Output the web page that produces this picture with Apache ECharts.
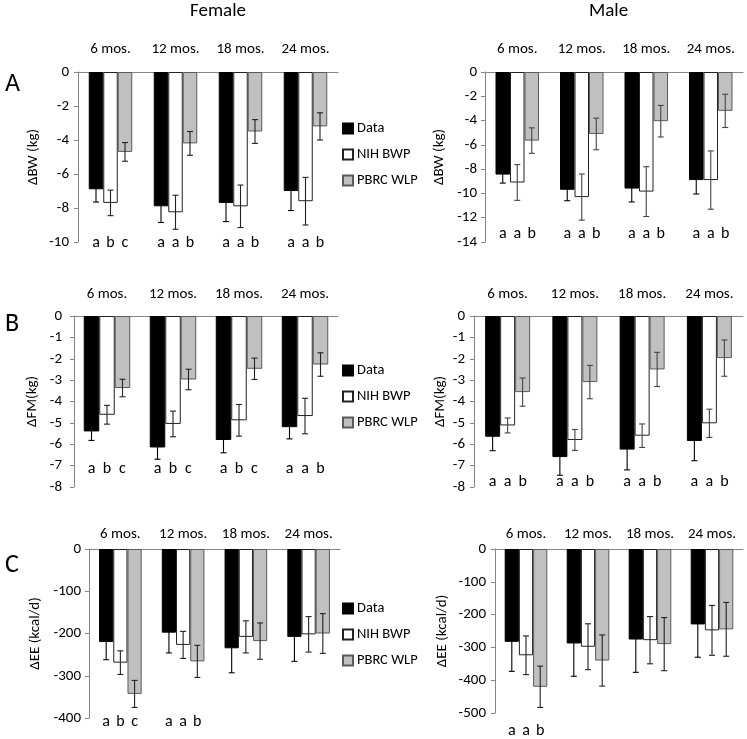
<!DOCTYPE html>
<html><head><meta charset="utf-8">
<script src="https://cdn.jsdelivr.net/npm/echarts@6/dist/echarts.min.js"></script>
<style>html,body{margin:0;padding:0;background:#fff}#c{width:747px;height:739px}</style>
</head><body><div id="c"></div>
<script>
const categories = ['6 mos.', '12 mos.', '18 mos.', '24 mos.'];
const seriesNames = ['Data', 'NIH BWP', 'PBRC WLP'];

// Female ΔBW (kg)
const fBW_data = [-6.9, -7.9, -7.7, -7.0];
const fBW_dataErr = [0.75, 0.95, 1.1, 1.15];
const fBW_nih = [-7.7, -8.25, -7.9, -7.6];
const fBW_nihErr = [0.75, 1.0, 1.25, 1.4];
const fBW_pbrc = [-4.7, -4.2, -3.5, -3.2];
const fBW_pbrcErr = [0.55, 0.7, 0.7, 0.8];
const fBW_letters = ['a b c', 'a a b', 'a a b', 'a a b'];

// Male ΔBW (kg)
const mBW_data = [-8.45, -9.7, -9.6, -8.9];
const mBW_dataErr = [0.7, 0.9, 1.1, 1.15];
const mBW_nih = [-9.1, -10.3, -9.85, -8.9];
const mBW_nihErr = [1.47, 1.9, 2.05, 2.4];
const mBW_pbrc = [-5.65, -5.1, -4.05, -3.2];
const mBW_pbrcErr = [1.05, 1.3, 1.3, 1.37];
const mBW_letters = ['a a b', 'a a b', 'a a b', 'a a b'];

// Female ΔFM (kg)
const fFM_data = [-5.4, -6.15, -5.8, -5.2];
const fFM_dataErr = [0.42, 0.55, 0.6, 0.55];
const fFM_nih = [-4.62, -5.05, -4.88, -4.68];
const fFM_nihErr = [0.44, 0.6, 0.74, 0.83];
const fFM_pbrc = [-3.37, -2.97, -2.47, -2.27];
const fFM_pbrcErr = [0.41, 0.48, 0.5, 0.55];
const fFM_letters = ['a b c', 'a b c', 'a b c', 'a a b'];

// Male ΔFM (kg)
const mFM_data = [-5.65, -6.6, -6.25, -5.85];
const mFM_dataErr = [0.65, 0.85, 0.95, 0.92];
const mFM_nih = [-5.12, -5.8, -5.6, -5.02];
const mFM_nihErr = [0.35, 0.49, 0.55, 0.66];
const mFM_pbrc = [-3.56, -3.09, -2.5, -1.97];
const mFM_pbrcErr = [0.66, 0.78, 0.8, 0.85];
const mFM_letters = ['a a b', 'a a b', 'a a b', 'a a b'];

// Female ΔEE (kcal/d)
const fEE_data = [-220, -198, -235, -208];
const fEE_dataErr = [42, 48, 58, 58];
const fEE_nih = [-269, -227, -208, -202];
const fEE_nihErr = [28, 32, 38, 42];
const fEE_pbrc = [-343, -266, -218, -200];
const fEE_pbrcErr = [32, 38, 43, 47];
const fEE_letters = ['a b c', 'a a b', '', ''];

// Male ΔEE (kcal/d)
const mEE_data = [-283, -288, -276, -230];
const mEE_dataErr = [90, 100, 100, 100];
const mEE_nih = [-324, -298, -278, -248];
const mEE_nihErr = [59, 70, 72, 76];
const mEE_pbrc = [-420, -340, -290, -245];
const mEE_pbrcErr = [63, 78, 81, 82];
const mEE_letters = ['a a b', '', '', ''];

const FONT = 'Carlito, Lato, sans-serif';
const AXIS_GRAY = '#868686';

const panels = [
  {grid:{left:78, top:72, width:260, height:170}, min:-10, interval:2, name:'ΔBW (kg)', nameGap:37, bw:14.5, letterMargin:-7, catMargin:15, labMargin:9,
   vals:[fBW_data,fBW_nih,fBW_pbrc], errs:[fBW_dataErr,fBW_nihErr,fBW_pbrcErr], letters:fBW_letters, errColor:'#222'},
  {grid:{left:485, top:72, width:258, height:170}, min:-14, interval:2, name:'ΔBW (kg)', nameGap:38, bw:14.5, letterMargin:-16, catMargin:15, labMargin:8,
   vals:[mBW_data,mBW_nih,mBW_pbrc], errs:[mBW_dataErr,mBW_nihErr,mBW_pbrcErr], letters:mBW_letters, errColor:'#444'},
  {grid:{left:74, top:316, width:264, height:171}, min:-8, interval:1, name:'ΔFM(kg)', nameGap:34, bw:15.5, letterMargin:-26, catMargin:14, labMargin:12,
   vals:[fFM_data,fFM_nih,fFM_pbrc], errs:[fFM_dataErr,fFM_nihErr,fFM_pbrcErr], letters:fFM_letters, errColor:'#222'},
  {grid:{left:474, top:316, width:269, height:171}, min:-8, interval:1, name:'ΔFM(kg)', nameGap:26, bw:15, letterMargin:-13, catMargin:14, labMargin:9,
   vals:[mFM_data,mFM_nih,mFM_pbrc], errs:[mFM_dataErr,mFM_nihErr,mFM_pbrcErr], letters:mFM_letters, errColor:'#444'},
  {grid:{left:89, top:549, width:251, height:169}, min:-400, interval:100, name:'ΔEE (kcal/d)', nameGap:46, bw:14.2, letterMargin:-4, catMargin:7, labMargin:8,
   vals:[fEE_data,fEE_nih,fEE_pbrc], errs:[fEE_dataErr,fEE_nihErr,fEE_pbrcErr], letters:fEE_letters, errColor:'#222'},
  {grid:{left:495, top:549, width:248, height:170}, min:-500, interval:100, name:'ΔEE (kcal/d)', nameGap:45, bw:14.2, letterMargin:10, catMargin:7, labMargin:9,
   vals:[mEE_data,mEE_nih,mEE_pbrc], errs:[mEE_dataErr,mEE_nihErr,mEE_pbrcErr], letters:mEE_letters, errColor:'#222'}
];

const barStyles = [
  {color:'#000000', borderColor:'#000000', borderWidth:1},
  {color:'#ffffff', borderColor:'#222222', borderWidth:1},
  {color:'#c0c0c0', borderColor:'#5a5a5a', borderWidth:1}
];

const option = {
  animation:false,
  backgroundColor:'#fff',
  textStyle:{fontFamily:FONT},
  grid:[], xAxis:[], yAxis:[], series:[],
  legend:[],
  graphic:[
    {type:'text', left:190, top:2, style:{text:'Female', font:'19px '+FONT, fill:'#000'}},
    {type:'text', left:589, top:2, style:{text:'Male', font:'19px '+FONT, fill:'#000'}},
    {type:'text', left:5, top:71, style:{text:'A', font:'26px '+FONT, fill:'#000'}},
    {type:'text', left:5, top:311, style:{text:'B', font:'26px '+FONT, fill:'#000'}},
    {type:'text', left:5, top:552, style:{text:'C', font:'26px '+FONT, fill:'#000'}}
  ]
};

[116, 358, 596].forEach(t => {
  option.legend.push({
    orient:'vertical', left:337, top:t, itemWidth:10, itemHeight:10, itemGap:11, itemStyle:{},
    icon:'rect', data:seriesNames, selectedMode:false,
    textStyle:{fontSize:14.5, fontFamily:FONT, color:'#000', padding:[0,0,0,-1]}
  });
});

panels.forEach((p, gi) => {
  option.grid.push(p.grid);
  option.xAxis.push({
    gridIndex:gi, type:'category', data:categories, position:'top',
    axisLine:{lineStyle:{color:AXIS_GRAY}}, axisTick:{show:false},
    axisLabel:{fontSize:15, color:'#000', margin:p.catMargin, fontFamily:FONT, interval:0}
  });
  const bw = p.bw;
  option.xAxis.push({
    gridIndex:gi, type:'category', data:p.letters, position:'bottom',
    axisLine:{show:false}, axisTick:{show:false},
    axisLabel:{margin:p.letterMargin, color:'#000', fontSize:16, fontFamily:FONT, interval:0,
      formatter: v => v ? v.split(' ').map(l => '{l|' + l + '}').join('') : '',
      rich:{l:{width:bw, align:'center', fontSize:16, fontFamily:FONT, color:'#000'}}}
  });
  option.yAxis.push({
    gridIndex:gi, type:'value', min:p.min, max:0, interval:p.interval,
    name:p.name, nameLocation:'middle', nameGap:p.nameGap,
    nameTextStyle:{fontSize:15, color:'#000', fontFamily:FONT},
    axisLine:{show:true, lineStyle:{color:AXIS_GRAY}},
    axisTick:{show:true, length:4, lineStyle:{color:AXIS_GRAY}},
    splitLine:{show:false},
    axisLabel:{fontSize:15, color:'#000', margin:p.labMargin, fontFamily:FONT}
  });
  const errData = [];
  seriesNames.forEach((nm, si) => {
    option.series.push({
      type:'bar', name:nm, xAxisIndex:gi*2, yAxisIndex:gi,
      data:p.vals[si], barWidth:bw, barGap:'0%',
      itemStyle:barStyles[si]
    });
    p.vals[si].forEach((v, ci) => errData.push([ci, v, p.errs[si][ci], si]));
  });
  option.series.push({
    type:'custom', xAxisIndex:gi*2, yAxisIndex:gi, z:10,
    data:errData,
    encode:{x:0, y:1},
    renderItem:(params, api) => {
      const ci = api.value(0), v = api.value(1), e = api.value(2), si = api.value(3);
      const c = api.coord([ci, v]);
      const x = c[0] + (si - 1) * bw;
      const yT = api.coord([ci, v + e])[1];
      const yB = api.coord([ci, v - e])[1];
      const cap = 3;
      const st = {stroke: si === 0 ? '#000' : p.errColor, lineWidth:1.1};
      return {type:'group', children:[
        {type:'line', shape:{x1:x, y1:yT, x2:x, y2:yB}, style:st},
        {type:'line', shape:{x1:x-cap, y1:yT, x2:x+cap, y2:yT}, style:st},
        {type:'line', shape:{x1:x-cap, y1:yB, x2:x+cap, y2:yB}, style:st}
      ]};
    }
  });
});

const chart = echarts.init(document.getElementById('c'), null, {renderer:'canvas'});
chart.setOption(option);
</script>
</body></html>
